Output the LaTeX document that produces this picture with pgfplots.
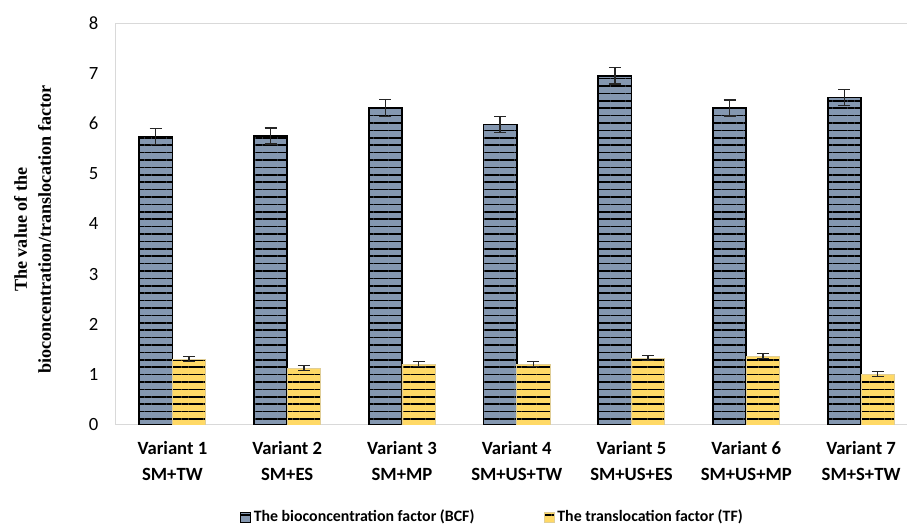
\documentclass[border=0pt]{standalone}
\usepackage{pgfplots}
\pgfplotsset{compat=1.18}
\usepackage{fontspec}
\setmainfont{Carlito}
\newfontfamily\serifbold{Liberation Serif}
\usetikzlibrary{patterns.meta}

\definecolor{bcfblue}{HTML}{8497B0}
\definecolor{tfgold}{HTML}{FFD966}
\definecolor{frame}{HTML}{D9D9D9}

% mean values and standard errors
\pgfplotstableread{
x  bcf   bcferr
0  5.74  0.16
1  5.75  0.16
2  6.31  0.17
3  5.98  0.16
4  6.95  0.16
5  6.31  0.16
6  6.52  0.16
}\bcftable
\pgfplotstableread{
x  tf    tferr
0  1.31  0.05
1  1.13  0.05
2  1.21  0.05
3  1.21  0.05
4  1.33  0.05
5  1.37  0.05
6  1.01  0.05
}\tftable

\tikzset{
  stripes/.style={postaction={pattern={Lines[angle=0,distance=5.55pt,line width=1.1pt]},pattern color=black}}
}

\begin{document}
\begin{tikzpicture}
\useasboundingbox (0,0) rectangle (680.25pt,397.5pt);
\begin{axis}[
  at={(86.25pt,78.75pt)}, anchor=south west,
  scale only axis, width=594pt, height=301.5pt,
  ybar=0pt, bar width=0.29,
  xmin=-0.5, xmax=6.4, ymin=0, ymax=8,
  ytick={0,1,...,8},
  xtick=data,
  xticklabels={{Variant 1\\SM+TW},{Variant 2\\SM+ES},{Variant 3\\SM+MP},{Variant 4\\SM+US+TW},{Variant 5\\SM+US+ES},{Variant 6\\SM+US+MP},{Variant 7\\SM+S+TW}},
  major tick length=0pt,
  axis line style={draw=none},
  /pgf/number format/assume math mode=true,
  yticklabel style={font=\fontsize{14}{16}\selectfont, xshift=-9pt},
  xticklabel style={font=\fontsize{14}{19.5}\selectfont\bfseries, align=center, yshift=-9pt},
  ylabel={The value of the\\bioconcentration/translocation factor},
  ylabel style={at={(axis description cs:-0.1040,0.486)}, anchor=center, rotate=0, align=center,
    font=\serifbold\fontsize{13.6}{18}\selectfont\bfseries},
  legend style={at={(axis description cs:0.477,-0.229)}, anchor=center, draw=none,
    legend columns=2, font=\fontsize{11.9}{14}\selectfont\bfseries,
    /tikz/every even column/.append style={column sep=50pt}},
  legend image code/.code={\draw[#1,line width=0.6pt] (0pt,-3.8pt) rectangle (7.6pt,3.8pt);},
  legend cell align=left,
  error bars/error bar style={line width=1.1pt, black!85},
  error bars/error mark options={rotate=90, mark size=4.5pt, line width=1.1pt, black!85},
]
\draw[frame, line width=1.1pt] (rel axis cs:0,0) -- (rel axis cs:1,0);
\draw[frame, line width=1.1pt] (rel axis cs:0,0) -- (rel axis cs:0,1) -- (rel axis cs:1,1);
\addplot[fill=bcfblue, draw=black, line width=1.3pt, stripes,
  error bars/.cd, y dir=both, y explicit]
  table[x=x, y=bcf, y error=bcferr] {\bcftable};
\addplot[fill=tfgold, draw=tfgold!80!black!60, line width=0.6pt, stripes,
  error bars/.cd, y dir=both, y explicit]
  table[x=x, y=tf, y error=tferr] {\tftable};
\legend{The bioconcentration factor (BCF), The translocation factor (TF)}
\end{axis}
\end{tikzpicture}
\end{document}
